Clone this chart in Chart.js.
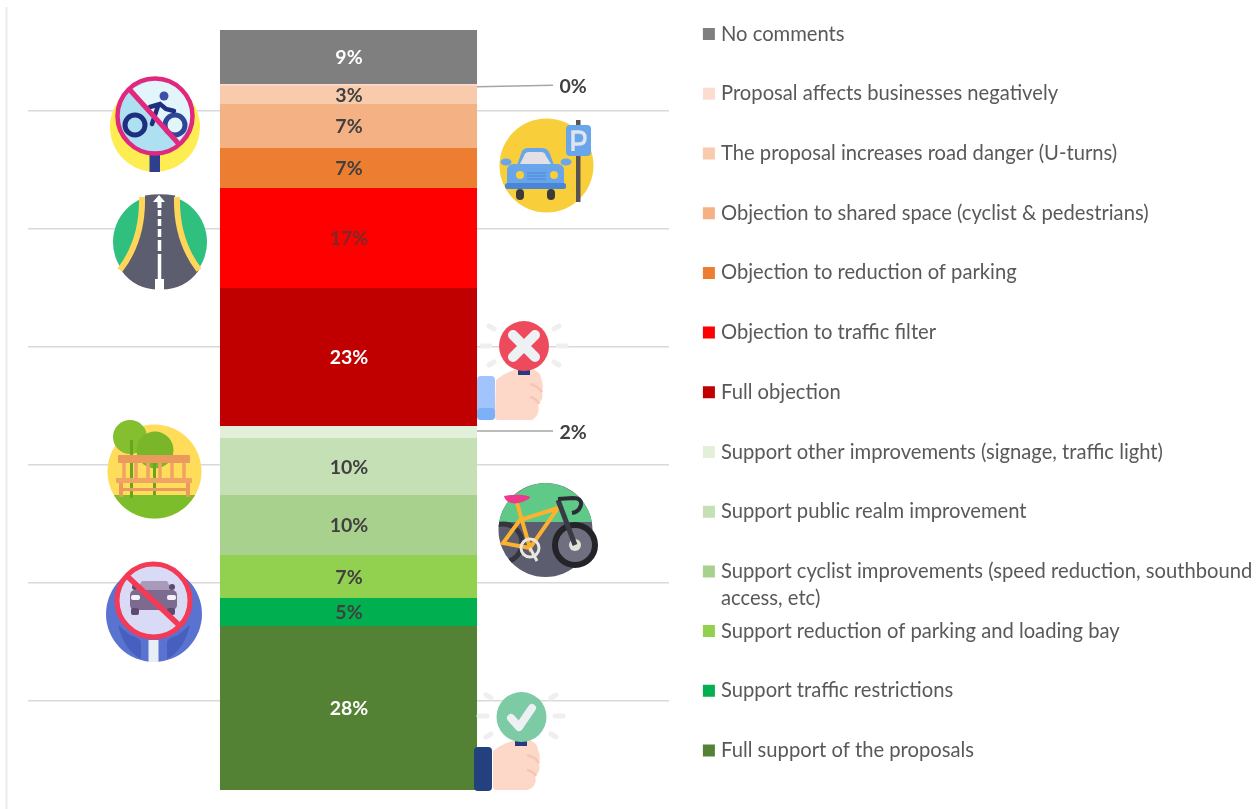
<!DOCTYPE html>
<html><head><meta charset="utf-8">
<script src="https://cdn.jsdelivr.net/npm/chart.js@4"></script>
<style>
html,body{margin:0;padding:0;background:#fff;overflow:hidden}
#wrap{position:relative;width:1258px;height:809px}
#c{position:absolute;left:0;top:0}
#icons{position:absolute;left:0;top:0;pointer-events:none}
</style></head><body>
<div id="wrap">
<canvas id="c" width="1258" height="809"></canvas>
<svg id="icons" width="1258" height="809" viewBox="0 0 1258 809">
  <defs>
    <clipPath id="bikeClip"><circle cx="545.500" cy="530" r="47"/></clipPath>
    <clipPath id="noBikeClip"><circle cx="155" cy="116" r="37"/></clipPath>
  </defs>
  <line x1="6.500" y1="7" x2="6.500" y2="809" stroke="#ececec" stroke-width="2"/>
  <!-- no bicycles -->
  <circle cx="155" cy="127" r="45" fill="#fdec52"/>
  <rect x="149.500" y="153" width="10.500" height="19" fill="#2f3f8f"/>
  <circle cx="155" cy="116" r="37" fill="#aee0f2"/>
  <path d="M130 90 L178 143 L200 110 L170 70Z" fill="#e2f5fb" clip-path="url(#noBikeClip)"/>
  <circle cx="155" cy="116" r="37.500" fill="none" stroke="#e0287e" stroke-width="4.500"/>
  <circle cx="135" cy="125" r="10" fill="none" stroke="#1f2f80" stroke-width="5"/>
  <circle cx="175" cy="125" r="10" fill="none" stroke="#2f4596" stroke-width="5"/>
  <circle cx="164" cy="96" r="4.500" fill="#3f4da5"/>
  <path d="M150 107 L160 104 L166 109 L174 111 M158 106 L152 124" fill="none" stroke="#1f2f80" stroke-width="4.500" stroke-linecap="round"/>
  <line x1="130" y1="90" x2="178" y2="143" stroke="#e0287e" stroke-width="5"/>
  <!-- road -->
  <circle cx="160" cy="242" r="47" fill="#2fbf7e"/>
  <path d="M145 195.500 Q160 193 175 195.500 Q176 240 199 270 Q185 290 160 289.500 Q135 290 121 270 Q144 240 145 195.500Z" fill="#5d5d70"/>
  <path d="M142 197 Q143 240 120 270 M177 197 Q176 240 199 270" fill="none" stroke="#ffd65a" stroke-width="6"/>
  <path d="M159 195 L165 202 L161.500 202 L161.500 208 L157.500 208 L157.500 202 L153 202Z" fill="#fff"/>
  <path d="M159.500 210 V290" stroke="#fff" stroke-width="3.500" stroke-dasharray="6 3 7 3 8 3 11 3 25 3" fill="none"/>
  <rect x="155" y="279" width="9" height="11" fill="#fff"/>
  <!-- parking -->
  <circle cx="546.500" cy="165.500" r="47" fill="#f8cf3a"/>
  <rect x="576" y="120" width="4.500" height="82" fill="#5a5450"/>
  <rect x="566" y="125" width="25" height="31" rx="4" fill="#68a5ea"/>
  <path d="M573 151 V132 H579 Q585 132 585 138 Q585 144 579 144 H573" fill="none" stroke="#dfe4ee" stroke-width="3.500"/>
  <rect x="516" y="189" width="8" height="11" rx="4" fill="#3f3a38"/>
  <rect x="547" y="189" width="8" height="11" rx="4" fill="#3f3a38"/>
  <ellipse cx="506" cy="162" rx="5.500" ry="3.500" fill="#68a5ea"/>
  <ellipse cx="566" cy="162" rx="5.500" ry="3.500" fill="#68a5ea"/>
  <path d="M516 168 L521 154 Q522 148 528 148 H542 Q548 148 550 154 L555 168Z" fill="#68a5ea"/>
  <path d="M520 164 L524 156 Q525 152 529 152 H541 Q545 152 546 156 L551 164Z" fill="#e2e0e4"/>
  <rect x="507" y="164" width="57" height="24" rx="6" fill="#68a5ea"/>
  <rect x="505" y="183" width="61" height="6" rx="2.500" fill="#4a86d8"/>
  <circle cx="520" cy="175" r="4" fill="#f8cf3a"/><circle cx="554" cy="175" r="4" fill="#f8cf3a"/>
  <path d="M527 173 H546 M527 176 H546 M527 179 H546" stroke="#4a86d8" stroke-width="1.200"/>
  <!-- cross hand -->
  <g stroke="#efefef" stroke-width="5" stroke-linecap="round" fill="none"><path d="M489 326 L494 329 M489 365 L494 362 M559 326 L554 329 M559 365 L554 362 M482 346 H490 M558 346 H566"/></g>
  <rect x="477" y="376" width="18" height="44" rx="4" fill="#a0c4fb"/>
  <rect x="477" y="408" width="18" height="12" rx="4" fill="#7eb0f8"/>
  <path d="M496 380 Q505 372 518 369 H532 Q541 372 541 378 Q544 384 542 392 Q544 400 538 404 Q541 414 532 420 H498 Q495 420 495 416Z" fill="#fdd7c8"/>
  <path d="M530 384 Q538 386 542 392 M530 397 Q536 398 539 404" stroke="#f8c5b2" stroke-width="2.500" fill="none"/>
  <rect x="518" y="368" width="12" height="7" fill="#273a7f"/>
  <circle cx="524" cy="346" r="25" fill="#ee4a5e"/>
  <path d="M513 335 L535 357 M535 335 L513 357" stroke="#eef1f4" stroke-width="10" stroke-linecap="round"/>
  <!-- bench -->
  <circle cx="154.500" cy="471.500" r="47" fill="#ffdc5a"/>
  <path d="M113.800 495 H195.200 A47 47 0 0 1 113.800 495Z" fill="#7cbd2c"/>
  <circle cx="130" cy="437" r="17" fill="#83bf2e"/><rect x="130" y="440" width="3" height="58" fill="#6aa51f"/>
  <circle cx="155" cy="450" r="18.500" fill="#7ab62a"/><rect x="153" y="457" width="3" height="38" fill="#6aa51f"/>
  <rect x="118" y="455" width="72" height="8" rx="1" fill="#e99a5c"/>
  <path d="M124 463 V478 M136 463 V478 M148 463 V478 M160 463 V478 M172 463 V478 M184 463 V478" stroke="#f0a365" stroke-width="3.500"/>
  <rect x="116" y="478" width="76" height="5" rx="1" fill="#f0a365"/>
  <rect x="119" y="488" width="70" height="3" fill="#e99a5c"/>
  <path d="M121 483 V497 M188 483 V497" stroke="#e99a5c" stroke-width="4"/>
  <!-- no cars -->
  <circle cx="154" cy="614" r="48" fill="#5a72d0"/>
  <path d="M141 662 V643 Q141 638 130 635 L118 625 Q124 650 141 659Z M167 662 V643 Q167 638 178 635 L190 625 Q184 650 167 659Z" fill="#4760bf"/>
  <rect x="148.500" y="640" width="10" height="22" fill="#e8edf6"/>
  <circle cx="153.500" cy="600.500" r="36.500" fill="#d8daf6" stroke="#f43a55" stroke-width="5"/>
  <path d="M136 590 L142 581 H167 L172 590Z" fill="#a89ab8"/>
  <rect x="130" y="590" width="47" height="20" rx="5" fill="#7e6a8e"/>
  <rect x="131" y="608" width="8" height="7" rx="2" fill="#5c4a70"/><rect x="167" y="608" width="8" height="7" rx="2" fill="#5c4a70"/>
  <rect x="131" y="595" width="9" height="5" rx="2" fill="#f2f2fa"/><rect x="167" y="595" width="9" height="5" rx="2" fill="#f2f2fa"/>
  <circle cx="135" cy="587" r="3" fill="#5c4a70"/><circle cx="172" cy="587" r="3" fill="#5c4a70"/>
  <line x1="127" y1="576" x2="180" y2="626" stroke="#f43a55" stroke-width="5.500"/>
  <!-- bicycle -->
  <circle cx="545.500" cy="530" r="47" fill="#5d5d70"/>
  <path d="M499.200 522 A47 47 0 0 1 591.800 522Z" fill="#5fc988"/>
  <g clip-path="url(#bikeClip)"><circle cx="503" cy="543" r="19" fill="none" stroke="#35353f" stroke-width="5"/></g>
  <circle cx="575" cy="545" r="20" fill="#6f6f80" stroke="#232328" stroke-width="6"/>
  <circle cx="575" cy="545" r="6" fill="#dfe3d8"/>
  <path d="M517 503 L530 548 L558 508 L520 520 L503 543 L530 548" fill="none" stroke="#fcb22f" stroke-width="4"/>
  <path d="M558 500 L575 545" stroke="#3a3a46" stroke-width="5"/>
  <path d="M558 499 L573 498 Q582 498 581 505 Q579 512 572 513" fill="none" stroke="#2c2c34" stroke-width="4"/>
  <path d="M504 496 Q514 494 522 495 Q531 496 530 498 Q520 505 511 503 Q505 501 504 496Z" fill="#ee3a8c"/>
  <circle cx="530" cy="548" r="9" fill="none" stroke="#e8e8e0" stroke-width="3"/>
  <path d="M530 548 L537 561" stroke="#e8e8e0" stroke-width="3"/>
  <!-- check hand -->
  <g stroke="#efefef" stroke-width="5" stroke-linecap="round" fill="none"><path d="M486 695 L491 698 M486 737 L491 734 M556 695 L551 698 M556 737 L551 734 M479 716 H487 M555 716 H563"/></g>
  <rect x="474" y="747" width="18" height="44" rx="4" fill="#23407f"/>
  <path d="M493 751 Q503 743 516 740 H530 Q538 744 538 750 Q541 756 539 763 Q541 772 535 776 Q538 786 528 790 H496 Q493 790 493 786Z" fill="#fdd7c8"/>
  <path d="M527 755 Q535 757 539 763 M527 770 Q533 771 536 776" stroke="#f8c5b2" stroke-width="2.500" fill="none"/>
  <rect x="515" y="739" width="12" height="7" fill="#273a7f"/>
  <circle cx="521.500" cy="717" r="25" fill="#7ccba5"/>
  <path d="M511 718 L519 727 L532 708" fill="none" stroke="#eef1f4" stroke-width="8" stroke-linecap="round" stroke-linejoin="round"/>
</svg>
</div>
<script>
// Bottom-to-top stacking order
const categories = [
  "Full support of the proposals",
  "Support traffic restrictions",
  "Support reduction of parking and loading bay",
  "Support cyclist improvements (speed reduction, southbound",
  "Support public realm improvement",
  "Support other improvements (signage, traffic light)",
  "Full objection",
  "Objection to traffic filter",
  "Objection to reduction of parking",
  "Objection to shared space (cyclist & pedestrians)",
  "The proposal increases road danger (U-turns)",
  "Proposal affects businesses negatively",
  "No comments"
];
const seriesValues = [27.6, 4.7, 7.25, 10.1, 9.6, 2.0, 23.25, 16.8, 6.75, 7.4, 3.15, 0.2, 9.1];
const seriesColors = ["#548235","#00b050","#92d050","#a9d18e","#c5e0b4","#e2f0d9","#c00000","#ff0000","#ed7d31","#f4b183","#f8cbad","#fbdccf","#7f7f7f"];
const labelColors  = ["#ffffff","#404040","#404040","#404040","#404040","#404040","#ffffff","#7a2a2a","#404040","#404040","#404040","#404040","#ffffff"];
const calloutCategories = ["Proposal affects businesses negatively","Support other improvements (signage, traffic light)"];
const legendContinuation = "access, etc)";
const gridValues = [15.0, 34.9, 54.7, 74.6, 94.5, 114.3];
const axisMax = 127.9;

const FONT = 'Lato, "Open Sans", sans-serif';
const LEGEND_FONT_SIZE = 20.2;
const LEGEND_PAD = 39.5;

const legendPlacement = {
  id:'legendPlacement',
  afterLayout(chart){
    const l = chart.legend;
    l.left = 706.9 - LEGEND_PAD; l.top = 24 - LEGEND_PAD;
    l.right = 1300; l.bottom = 840;
    l.width = l.right - l.left; l.height = l.bottom - l.top;
  }
};
const valueLabels = {
  id:'valueLabels',
  afterDatasetsDraw(chart){
    const ctx = chart.ctx;
    ctx.save();
    ctx.textAlign='center'; ctx.textBaseline='middle';
    chart.data.datasets.forEach((ds,i)=>{
      const el = chart.getDatasetMeta(i).data[0];
      const v = ds.data[0];
      const txt = Math.round(v)+'%';
      const mid = (el.y+el.base)/2;
      ctx.font = 'bold 19.5px '+FONT;
      if (calloutCategories.includes(ds.label)) {
        const right = el.x + el.width/2;
        const tiny = v < 1;
        ctx.strokeStyle='#a6a6a6'; ctx.lineWidth=1.5;
        ctx.beginPath();
        ctx.moveTo(right, tiny ? mid+2 : mid-1);
        ctx.lineTo(right+76, tiny ? mid+0.5 : mid-1);
        ctx.stroke();
        ctx.fillStyle='#404040';
        ctx.fillText(txt, right+96, tiny ? mid+2.5 : mid+0.5);
      } else {
        ctx.fillStyle = ds.labelColor;
        ctx.fillText(txt, el.x+0.5, mid+1);
      }
    });
    // second line of the wrapped legend entry
    ctx.font = LEGEND_FONT_SIZE+'px '+FONT; ctx.fillStyle='#595959'; ctx.textAlign='left';
    ctx.fillText(legendContinuation, 721, 598);
    ctx.restore();
  }
};

new Chart(document.getElementById('c'), {
  type:'bar',
  data:{
    labels:[''],
    datasets: categories.map((name,i)=>({
      label:name,
      data:[seriesValues[i]],
      backgroundColor:seriesColors[i],
      labelColor:labelColors[i],
      borderWidth:0,
      barPercentage:0.401,
      categoryPercentage:1
    }))
  },
  options:{
    responsive:false,
    animation:false,
    layout:{padding:{left:28,top:30,bottom:19,right:0}},
    scales:{
      x:{stacked:true,display:false},
      y:{
        stacked:true,min:0,max:axisMax,
        afterBuildTicks(axis){ axis.ticks = gridValues.map(v=>({value:v})); },
        border:{display:false},
        grid:{color:'#d9d9d9',lineWidth:1.5,drawTicks:false},
        ticks:{display:false}
      }
    },
    plugins:{
      tooltip:{enabled:false},
      legend:{
        display:true,position:'right',align:'start',reverse:true,maxWidth:589,
        labels:{
          boxWidth:4,boxHeight:4,padding:LEGEND_PAD,color:'#595959',
          font:{family:FONT,size:LEGEND_FONT_SIZE},
          generateLabels(chart){
            const items = Chart.defaults.plugins.legend.labels.generateLabels(chart);
            items.forEach(it=>{ it.strokeStyle = it.fillStyle; it.lineWidth = 8; it.lineJoin='miter'; });
            return items;
          }
        }
      }
    }
  },
  plugins:[legendPlacement,valueLabels]
});
</script>
</body></html>
